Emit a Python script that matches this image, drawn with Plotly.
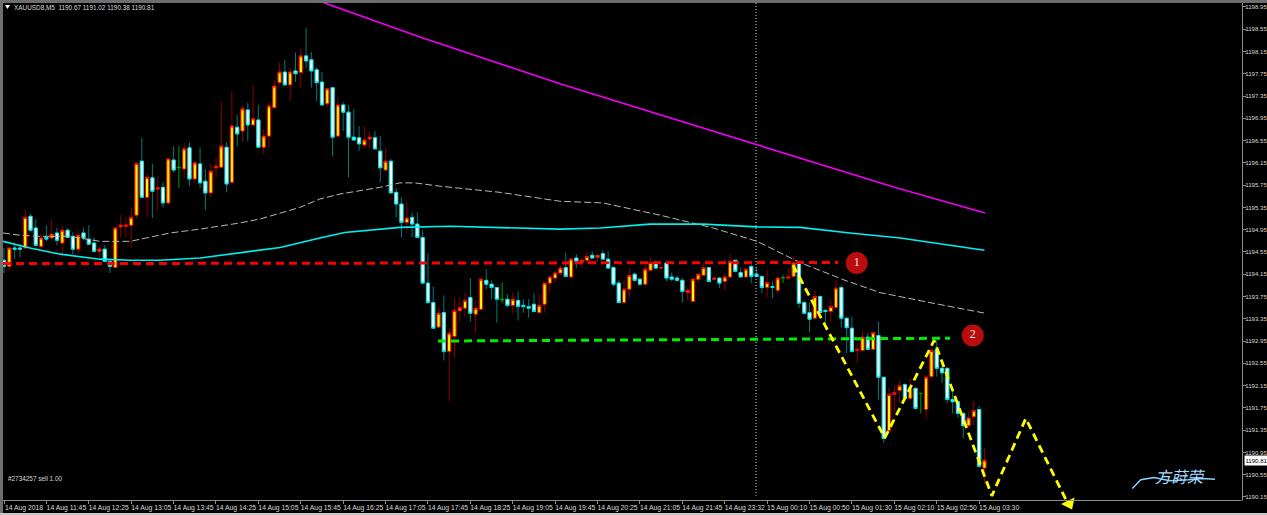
import plotly.graph_objects as go

opens = [1194.40,1194.29,1194.62,1194.62,1194.62,1195.19,1194.98,1194.65,1194.81,1194.80,
1194.89,1194.71,1194.94,1194.83,1194.60,1194.89,1194.78,1194.71,1194.56,1194.60,
1194.38,1194.27,1195.00,1195.01,1195.03,1195.21,1196.18,1195.53,1195.88,1195.68,
1195.71,1195.43,1196.20,1196.06,1196.04,1196.42,1195.86,1196.13,1195.82,1195.61,
1196.06,1196.07,1196.43,1195.80,1196.79,1196.72,1197.10,1196.83,1196.92,1196.43,
1196.63,1197.14,1197.59,1197.78,1197.55,1197.80,1197.77,1198.07,1198.00,1197.82,
1197.60,1197.21,1197.50,1196.63,1197.19,1197.06,1196.61,1196.60,1196.47,1196.58,
1196.60,1196.36,1196.02,1196.18,1195.62,1195.41,1195.08,1195.17,1195.05,1194.81,
1193.99,1193.64,1193.20,1193.46,1192.76,1193.03,1193.50,1193.54,1193.73,1193.43,
1193.52,1194.04,1193.97,1193.91,1193.70,1193.70,1193.59,1193.68,1193.59,1193.57,
1193.61,1193.46,1193.61,1193.99,1194.08,1194.17,1194.27,1194.10,1194.44,1194.36,
1194.40,1194.49,1194.45,1194.52,1194.42,1194.27,1193.99,1193.64,1193.88,1194.15,
1194.06,1193.97,1194.22,1194.36,1194.26,1194.35,1194.10,1194.08,1194.04,1193.82,
1193.66,1194.06,1194.13,1194.27,1194.06,1194.08,1194.02,1194.10,1194.40,1194.18,
1194.10,1194.29,1194.15,1194.11,1193.91,1193.93,1193.86,1194.08,1194.08,1194.11,
1194.35,1193.64,1193.46,1193.36,1193.75,1193.50,1193.48,1193.55,1193.91,1193.36,
1193.18,1192.78,1192.78,1193.02,1192.80,1193.05,1192.30,1191.34,1191.99,1192.06,
1192.17,1191.92,1192.10,1192.01,1191.72,1192.31,1192.80,1192.46,1192.46,1191.90,
1191.86,1191.65,1191.43,1191.59,1191.72,1190.67]

highs = [1194.62,1194.62,1194.67,1194.69,1195.30,1195.23,1195.14,1194.87,1195.03,1195.14,
1194.99,1195.03,1194.98,1194.90,1194.94,1194.99,1195.03,1194.81,1194.65,1194.67,
1194.40,1194.98,1195.21,1195.17,1195.35,1196.16,1196.60,1195.97,1196.13,1195.89,
1195.80,1196.22,1196.45,1196.45,1196.51,1196.52,1196.18,1196.43,1196.04,1196.13,
1196.24,1197.24,1196.52,1197.44,1197.01,1197.17,1197.23,1197.55,1197.19,1196.76,
1197.24,1197.64,1197.95,1198.00,1197.86,1198.13,1198.20,1198.58,1198.14,1197.87,
1197.78,1197.50,1197.50,1197.33,1197.24,1197.19,1197.12,1196.81,1196.81,1196.70,
1196.72,1196.63,1196.42,1196.22,1195.70,1195.53,1195.44,1195.26,1195.26,1194.94,
1194.52,1193.93,1193.54,1193.77,1193.18,1193.73,1193.75,1193.82,1194.08,1193.68,
1194.11,1194.24,1194.04,1193.91,1194.00,1193.79,1193.82,1193.84,1193.70,1193.70,
1193.81,1193.79,1193.99,1194.10,1194.22,1194.31,1194.54,1194.44,1194.51,1194.45,
1194.54,1194.56,1194.49,1194.58,1194.56,1194.29,1194.04,1194.04,1194.26,1194.18,
1194.09,1194.31,1194.45,1194.40,1194.36,1194.36,1194.18,1194.13,1194.08,1193.91,
1194.11,1194.17,1194.36,1194.27,1194.10,1194.10,1194.17,1194.51,1194.40,1194.26,
1194.27,1194.33,1194.26,1194.13,1194.22,1194.02,1194.08,1194.13,1194.26,1194.47,
1194.40,1193.68,1193.64,1193.86,1193.77,1193.52,1193.70,1194.04,1193.95,1193.36,
1193.39,1192.91,1193.12,1193.09,1193.10,1193.30,1192.30,1192.10,1192.15,1192.24,
1192.19,1192.28,1192.11,1192.01,1192.33,1192.83,1192.96,1192.60,1192.47,1192.11,
1191.88,1191.67,1191.67,1191.88,1191.79,1191.02]

lows = [1194.17,1194.22,1194.42,1194.45,1194.60,1194.92,1194.65,1194.63,1194.74,1194.78,
1194.67,1194.44,1194.81,1194.51,1194.53,1194.76,1194.67,1194.54,1194.40,1194.36,
1194.17,1194.26,1194.81,1194.81,1194.63,1195.14,1195.53,1195.17,1195.16,1195.30,
1195.35,1195.39,1195.98,1195.70,1195.88,1195.73,1195.79,1195.70,1195.30,1195.53,
1195.88,1196.07,1195.62,1195.80,1196.45,1196.52,1196.54,1196.83,1196.42,1196.31,
1196.42,1197.14,1197.55,1197.53,1197.26,1197.60,1197.50,1197.86,1197.50,1197.26,
1197.19,1197.14,1196.27,1196.61,1196.72,1195.89,1196.54,1196.36,1196.42,1196.40,
1196.40,1195.80,1196.00,1195.61,1195.17,1194.81,1194.94,1194.81,1194.81,1193.99,
1193.63,1193.18,1193.20,1192.60,1191.86,1192.65,1193.28,1193.41,1193.30,1193.09,
1193.52,1193.88,1193.70,1193.28,1193.63,1193.55,1193.45,1193.32,1193.46,1193.37,
1193.46,1193.46,1193.46,1193.82,1193.99,1194.13,1194.10,1194.10,1194.26,1194.27,
1194.35,1194.44,1194.36,1194.40,1194.24,1193.93,1193.64,1193.63,1193.72,1194.02,
1193.95,1193.97,1194.22,1194.24,1194.24,1194.02,1194.02,1194.02,1193.64,1193.68,
1193.66,1193.99,1194.13,1194.00,1194.06,1193.90,1193.86,1194.10,1194.18,1194.10,
1194.10,1193.99,1194.10,1193.81,1193.73,1193.72,1193.81,1193.99,1194.08,1194.11,
1193.54,1193.45,1193.11,1193.34,1193.46,1193.27,1193.28,1193.54,1193.19,1192.73,
1192.76,1192.57,1192.78,1192.78,1192.80,1191.90,1191.12,1191.34,1191.65,1191.83,
1191.88,1191.90,1191.72,1191.65,1191.56,1192.28,1192.31,1192.20,1191.84,1191.65,
1191.57,1191.21,1191.39,1191.43,1190.68,1190.38]

closes = [1194.29,1194.62,1194.60,1194.60,1195.17,1194.94,1194.67,1194.80,1194.78,1194.87,
1194.76,1194.94,1194.81,1194.60,1194.85,1194.80,1194.69,1194.56,1194.60,1194.38,
1194.29,1194.98,1195.03,1195.03,1195.17,1196.14,1195.53,1195.89,1195.64,1195.70,
1195.43,1196.22,1196.02,1196.07,1196.40,1195.86,1196.15,1195.79,1195.61,1196.00,
1196.09,1196.45,1195.77,1196.81,1196.67,1197.12,1196.83,1196.94,1196.43,1196.63,
1197.17,1197.53,1197.78,1197.55,1197.78,1197.75,1198.07,1197.98,1197.80,1197.59,
1197.19,1197.48,1196.61,1197.19,1197.06,1196.61,1196.56,1196.49,1196.56,1196.61,
1196.40,1196.06,1196.18,1195.61,1195.41,1195.08,1195.16,1195.05,1194.81,1193.99,
1193.64,1193.18,1193.45,1192.76,1193.09,1193.50,1193.55,1193.68,1193.45,1193.54,
1194.06,1193.97,1193.91,1193.70,1193.69,1193.59,1193.70,1193.57,1193.57,1193.54,
1193.48,1193.59,1193.99,1194.10,1194.17,1194.26,1194.11,1194.42,1194.38,1194.40,
1194.47,1194.44,1194.49,1194.42,1194.26,1193.97,1193.64,1193.88,1194.13,1194.04,
1193.97,1194.24,1194.36,1194.26,1194.27,1194.08,1194.06,1194.04,1193.84,1193.86,
1194.06,1194.15,1194.27,1194.02,1194.08,1193.99,1194.10,1194.38,1194.20,1194.10,
1194.24,1194.11,1194.11,1193.91,1194.00,1193.91,1194.08,1194.09,1194.10,1194.35,
1193.63,1193.45,1193.34,1193.75,1193.46,1193.48,1193.57,1193.90,1193.36,1193.19,
1192.76,1192.80,1193.02,1192.80,1193.10,1192.30,1191.20,1191.99,1192.02,1192.15,
1191.92,1192.11,1191.74,1192.01,1192.30,1192.78,1192.46,1192.38,1191.90,1191.86,
1191.65,1191.43,1191.57,1191.70,1190.70,1190.81]

doji_bars = [33, 94, 147, 173]

ma_slow_x = [-0.2,4.9,10.6,18.1,23.8,29.4,37,44.5,52.1,59.6,64.3,74.7,84.2,104.9,112.5,121.9,131.9,142.1,150.2,159.6,169.1,185]
ma_slow_y = [1194.74,1194.62,1194.51,1194.42,1194.40,1194.40,1194.44,1194.53,1194.63,1194.80,1194.90,1194.99,1195.01,1194.96,1194.98,1195.05,1195.05,1195.00,1194.99,1194.89,1194.80,1194.58]

ma_gray_x = [-0.2,3,6.8,12.4,18.1,23.8,31.3,37,44.5,48.3,55.8,59.6,63.4,71,74.7,77.5,82.3,93.6,104.9,113,123.8,133.8,142.1,150.2,158.7,165.3,174.7,185.1]
ma_gray_y = [1194.89,1194.85,1194.83,1194.83,1194.74,1194.74,1194.89,1194.96,1195.07,1195.14,1195.35,1195.50,1195.59,1195.71,1195.79,1195.79,1195.73,1195.62,1195.46,1195.43,1195.21,1194.98,1194.74,1194.36,1194.04,1193.82,1193.64,1193.45]

ma_magenta_x = [60.2,78.5,104.9,123.8,142.1,155.8,167.7,185.1]
ma_magenta_y = [1199.03,1198.41,1197.57,1197.01,1196.47,1196.07,1195.72,1195.25]

red_x = [-0.2,157.4]
red_y = [1194.34,1194.36]
green_x = [81.9,178.5]
green_y = [1192.95,1193.00]
zig_x = [148.9,166.2,175.5,186.4,192.8,200.8]
zig_y = [1194.31,1191.21,1192.96,1190.17,1191.56,1190.02]
arrow_x = [201.0]
arrow_y = [1190.03]
cursor_x = [141.9,141.9]
cursor_y = [1199.02,1190.17]
badge_x = [160.9,182.8]
badge_y = [1194.35,1193.05]
badge_text = ["1","2"]
swoosh_x = [212.9,214.5,217,220,223.5,226,228.5]
swoosh_y = [1190.30,1190.46,1190.50,1190.44,1190.46,1190.48,1190.47]

x_tick_vals = [8*k for k in range(24)]
x_tick_text = ["14 Aug 2018","14 Aug 11:45","14 Aug 12:25","14 Aug 13:05","14 Aug 13:45","14 Aug 14:25","14 Aug 15:05",
 "14 Aug 15:45","14 Aug 16:25","14 Aug 17:05","14 Aug 17:45","14 Aug 18:25","14 Aug 19:05","14 Aug 19:45","14 Aug 20:25",
 "14 Aug 21:05","14 Aug 21:45","14 Aug 23:32","15 Aug 00:10","15 Aug 00:50","15 Aug 01:30","15 Aug 02:10","15 Aug 02:50","15 Aug 03:30"]
y_tick_vals = [1198.95,1198.55,1198.15,1197.75,1197.35,1196.95,1196.55,1196.15,1195.75,1195.35,1194.95,1194.55,
 1194.15,1193.75,1193.35,1192.95,1192.55,1192.15,1191.75,1191.35,1190.95,1190.55,1190.15]

FONT = "Liberation Sans"
W, H, L, R, T, B = 1267, 515, 3, 25, 3, 0
PW, PH = W - L - R, H - T - B
def px(x): return (x - L) / PW
def py(y): return 1 - (y - T) / PH

n = len(opens)
idx = list(range(n))
normal = [i for i in idx if i not in doji_bars]
def pick(a, s): return [a[i] for i in s]

fig = go.Figure()
fig.add_trace(go.Candlestick(x=pick(idx,normal), open=pick(opens,normal), high=pick(highs,normal), low=pick(lows,normal), close=pick(closes,normal),
    increasing=dict(line=dict(color="#8a0000",width=1),fillcolor="#8a0000"),
    decreasing=dict(line=dict(color="#007a7a",width=1),fillcolor="#007a7a"),whiskerwidth=0,hoverinfo="skip"))
fig.add_trace(go.Candlestick(x=pick(idx,normal), open=pick(opens,normal), close=pick(closes,normal),
    high=[max(opens[i],closes[i]) for i in normal], low=[min(opens[i],closes[i]) for i in normal],
    increasing=dict(line=dict(color="#f00000",width=1),fillcolor="#ffff00"),
    decreasing=dict(line=dict(color="#00e5e5",width=1),fillcolor="#ffffff"),whiskerwidth=0,hoverinfo="skip"))
fig.add_trace(go.Candlestick(x=doji_bars, open=pick(opens,doji_bars), high=pick(highs,doji_bars), low=pick(lows,doji_bars), close=pick(closes,doji_bars),
    increasing=dict(line=dict(color="#00a000",width=1),fillcolor="#00a000"),
    decreasing=dict(line=dict(color="#00a000",width=1),fillcolor="#00a000"),whiskerwidth=0,hoverinfo="skip"))

def line(x,y,color,width,dash="solid"):
    fig.add_trace(go.Scatter(x=x,y=y,mode="lines",line=dict(color=color,width=width,dash=dash),hoverinfo="skip"))

line(cursor_x,cursor_y,"#d8d8d8",1,"1px,2px")
line(ma_gray_x,ma_gray_y,"#b8b8b8",1,"7px,3px")
line(ma_slow_x,ma_slow_y,"#00f0f0",1.6)
line(ma_magenta_x,ma_magenta_y,"#f000f0",1.6)
line(red_x,red_y,"#ff0000",3,"8px,5px")
line(green_x,green_y,"#00ee00",3,"8px,5px")
line(zig_x,zig_y,"#ffff00",2.8,"8px,5px")
fig.add_trace(go.Scatter(x=arrow_x,y=arrow_y,mode="markers",hoverinfo="skip",
    marker=dict(symbol="triangle-down",size=13,angle=-26,color="#ffff00",line=dict(width=0))))
fig.add_trace(go.Scatter(x=badge_x,y=badge_y,mode="markers+text",text=badge_text,textposition="middle center",
    textfont=dict(family="Liberation Serif",size=12,color="#f4e0e0"),
    marker=dict(size=22,color="#b80d0d",line=dict(width=0)),hoverinfo="skip"))
line(swoosh_x,swoosh_y,"#8cd0ff",1.5)

fig.add_annotation(xref="paper",yref="paper",x=px(12),y=py(7),xanchor="left",yanchor="middle",showarrow=False,
    text="XAUUSD8,M5  1190.67 1191.02 1190.38 1190.81",font=dict(family=FONT,size=6.4,color="#d8d8d8"))
fig.add_annotation(xref="paper",yref="paper",x=px(6),y=py(478),xanchor="left",yanchor="middle",showarrow=False,
    text="#2734257 sell 1.00",font=dict(family=FONT,size=6.4,color="#d8d8d8"))
fig.add_annotation(xref="paper",yref="y",x=px(1244),y=closes[-1],xanchor="left",yanchor="middle",showarrow=False,
    text="1190.81",font=dict(family=FONT,size=6.1,color="#000000"),bgcolor="#ffffff",borderpad=0,width=23,height=9)
fig.add_annotation(xref="paper",yref="paper",x=px(1180),y=py(476),xanchor="center",yanchor="middle",showarrow=False,
    text="<i>方莳荣</i>",font=dict(family="Noto Sans CJK SC",size=16,color="#a5dcff"))

axis_color = "#8c8c8c"
fig.update_layout(
    width=W,height=H,margin=dict(l=L,r=R,t=T,b=B,pad=0,autoexpand=False),
    paper_bgcolor="#000000",plot_bgcolor="#000000",showlegend=False,boxgap=0.15,
    xaxis=dict(range=[-0.19,233.6],rangeslider=dict(visible=False),showgrid=False,zeroline=False,
        anchor="free",position=py(500),
        tickmode="array",tickvals=x_tick_vals,ticktext=x_tick_text,ticks="outside",ticklen=3,tickcolor=axis_color,
        showline=True,linecolor=axis_color,linewidth=1,ticklabelshift=20,ticklabelstandoff=-2,tickangle=0,
        tickfont=dict(family=FONT,size=6.8,color="#d8d8d8")),
    yaxis=dict(range=[1189.826,1199.02],side="right",showgrid=False,zeroline=False,
        tickmode="array",tickvals=y_tick_vals,ticktext=[f"{v:.2f}" for v in y_tick_vals],ticks="outside",ticklen=3,tickcolor=axis_color,
        showline=True,linecolor=axis_color,linewidth=1,ticklabelstandoff=-2,
        tickfont=dict(family=FONT,size=6.1,color="#d8d8d8")),
    shapes=[
        dict(type="rect",xref="paper",yref="paper",x0=px(1240.5),x1=px(1244),y0=py(513),y1=py(500.5),fillcolor="#000000",line=dict(width=0),layer="above"),
        dict(type="rect",xref="paper",yref="paper",x0=px(0),x1=px(3),y0=py(515),y1=py(0),fillcolor="#6e6e6e",line=dict(width=0),layer="above"),
        dict(type="rect",xref="paper",yref="paper",x0=px(0),x1=px(W),y0=py(3),y1=py(0),fillcolor="#6e6e6e",line=dict(width=0),layer="above"),
        dict(type="rect",xref="paper",yref="paper",x0=px(0),x1=px(W),y0=py(515),y1=py(513),fillcolor="#c8c8c8",line=dict(width=0),layer="above"),
        dict(type="path",xref="paper",yref="paper",path=f"M {px(5)} {py(5)} L {px(10)} {py(5)} L {px(7.5)} {py(9)} Z",fillcolor="#ffffff",line=dict(width=0)),
    ],
)
fig.write_html("out.html", config={"displayModeBar":False}, post_script="document.body.style.margin='0';")
